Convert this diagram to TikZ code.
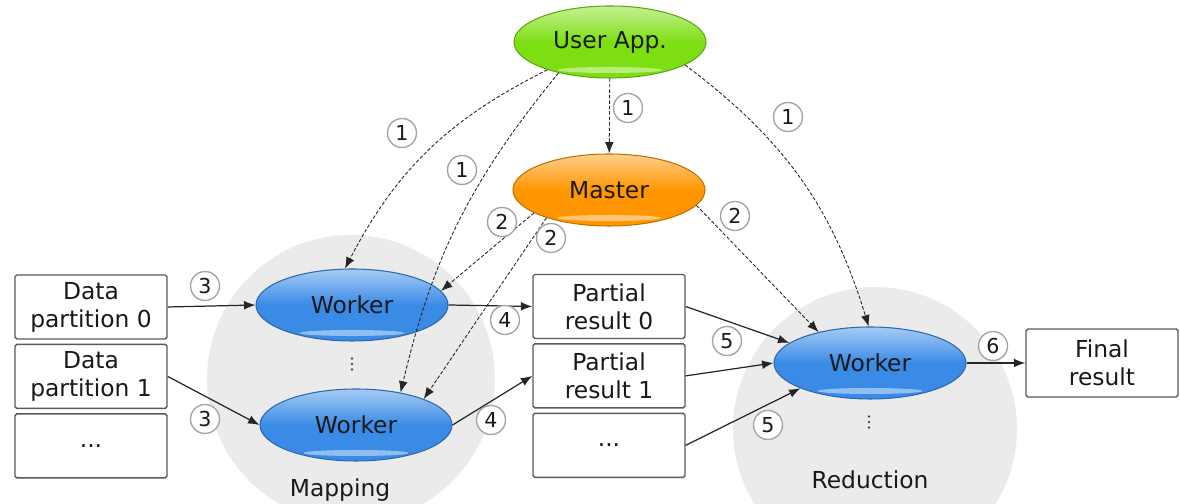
\documentclass[tikz,border=0pt]{standalone}
\usepackage{fontspec}
\setmainfont{DejaVu Sans}
\usepackage{tikz}
\usetikzlibrary{positioning,shapes.geometric,arrows.meta,calc}

\definecolor{appgreen}{HTML}{7DDF12}
\definecolor{mastorange}{HTML}{FF9600}
\definecolor{workblue}{HTML}{3A8BE6}
\definecolor{phasegray}{HTML}{EBEBEB}

\tikzset{
  procnode/.style={ellipse, minimum width=3.84cm, minimum height=1.44cm,
    draw=#1!75!black, line width=0.6pt,
    top color=#1!45!white, bottom color=#1, middle color=#1,
    path picture={\fill[white,opacity=0.45]
      ($(path picture bounding box.south)+(0,0.16)$) ellipse (1.05cm and 0.06cm);}},
  databox/.style={draw=black!65, line width=0.8pt, rounded corners=1pt, fill=white,
    minimum width=3.04cm, minimum height=1.28cm, align=center},
  num/.style={circle, draw=black!35, line width=0.8pt, fill=white, inner sep=0pt,
    minimum size=0.58cm, font=\fontsize{11.7}{12}\selectfont},
  flow/.style={-{Latex[length=6.5pt,width=5pt]}, line width=0.7pt, black!85},
  ctrl/.style={flow, line width=0.5pt, dash pattern=on 2pt off 1.1pt}
}

\begin{document}
\begin{tikzpicture}[font=\fontsize{13.3}{16}\selectfont, text=black!90]
\useasboundingbox (0,0) rectangle (23.6,10.08);
\clip (0,0) rectangle (23.6,10.08);

% phases
\fill[phasegray] (7.02,2.5) circle (2.88);
\fill[phasegray] (17.5,1.5) circle (2.84);
\node (maplbl) at (6.8,0.28) {Mapping};
\node (redlbl) at (17.4,0.48) {Reduction};

% processes
\node[procnode=appgreen] (app) at (12.2,9.24) {User App.};
\node[procnode=mastorange] (master) at (12.18,6.28) {Master};
\node[procnode=workblue] (wtop) at (7.04,3.98) {Worker};
\node[procnode=workblue] (wbot) at (7.12,1.58) {Worker};
\node[procnode=workblue] (wred) at (17.4,2.82) {Worker};
\foreach \i in {-1,0,1} {
  \fill[black!70] (7.04,{2.8+0.11*\i}) circle (0.028);
  \fill[black!70] (17.38,{1.64+0.11*\i}) circle (0.028);
}

% data
\node[databox] (data0) at (1.82,3.94) {Data\\partition 0};
\node[databox, below=0.08cm of data0] (data1) {Data\\partition 1};
\node[databox, below=0.08cm of data1] (data2) {...};
\node[databox] (part0) at (12.18,3.95) {Partial\\result 0};
\node[databox, below=0.08cm of part0] (part1) {Partial\\result 1};
\node[databox, below=0.08cm of part1] (part2) {...};
\node[databox, minimum height=1.36cm] (final) at (22.04,2.82) {Final\\result};

% step 1 and 2
\draw[ctrl] (app) -- (master);
\draw[ctrl] (app.204) to[bend right=18] (wtop.101);
\draw[ctrl] (app.211) to[bend right=13] (wbot.36);
\draw[ctrl] (app.343) to[bend left=18] (wred.92);
\draw[ctrl] (master.197) -- (wtop.9);
\draw[ctrl] (master.204) -- (wbot.21);
\draw[ctrl] (master.350) -- (wred.149);

% steps 3 to 6
\draw[flow] (data0.east) -- (wtop.west);
\draw[flow] (data1.east) -- (wbot.west);
\draw[flow] (wtop.east) -- (part0.west);
\draw[flow] (wbot.east) -- (part1.west);
\draw[flow] (part0.east) -- (wred.166);
\draw[flow] (part1.east) -- (wred.west);
\draw[flow] (part2.east) -- (wred.200);
\draw[flow] (wred.east) -- (final.west);

% step numbers
\node[num] (n1a) at (8.04,7.42) {1};
\node[num] (n1b) at (9.24,6.68) {1};
\node[num] (n1c) at (12.56,7.92) {1};
\node[num] (n1d) at (15.76,7.74) {1};
\node[num] (n2a) at (10.04,5.64) {2};
\node[num] (n2b) at (11.02,5.32) {2};
\node[num] (n2c) at (14.7,5.76) {2};
\node[num] (n3a) at (4.1,4.36) {3};
\node[num] (n3b) at (4.1,1.7) {3};
\node[num] (n4a) at (10.1,3.68) {4};
\node[num] (n4b) at (9.82,1.68) {4};
\node[num] (n5a) at (14.54,3.26) {5};
\node[num] (n5b) at (15.36,1.58) {5};
\node[num] (n6) at (19.86,3.16) {6};
\end{tikzpicture}
\end{document}
